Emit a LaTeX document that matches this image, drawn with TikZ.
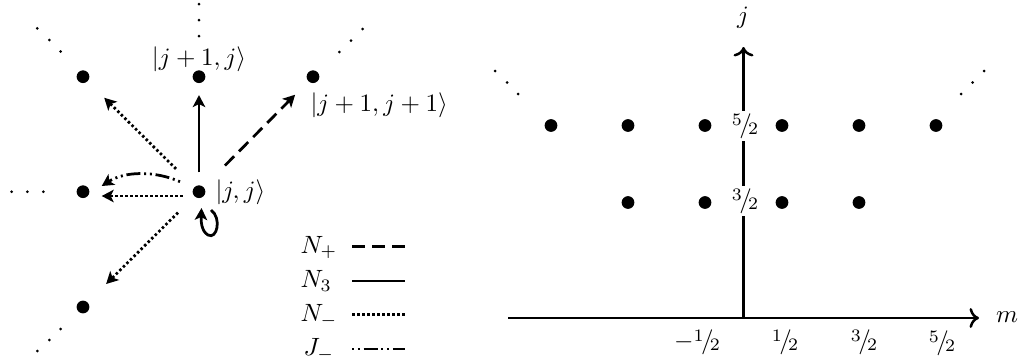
\documentclass[tikz,border=0pt]{standalone}
\usetikzlibrary{arrows.meta}
\newcommand{\hfr}[2]{\mbox{\raisebox{.6ex}{\scriptsize #1}\kern-.1em$/$\kern-.15em\lower.25ex\hbox{\scriptsize #2}}}
\begin{document}
\begin{tikzpicture}[x=0.4pt,y=-0.4pt,
  dot/.style={circle,fill,inner sep=0pt,minimum size=5.1pt},
  edot/.style={circle,fill,inner sep=0pt,minimum size=1.2pt},
  arr/.style={line width=1.1pt,-{Stealth[length=4.8pt,width=5pt,inset=1.2pt]}},
  plusline/.style={dash pattern=on 5.2pt off 2.8pt},
  minusline/.style={dash pattern=on 1pt off 1pt},
  jline/.style={dash pattern=on 0.8pt off 1.5pt on 0.8pt off 1.5pt on 5.6pt off 1.5pt},
  leg/.style={line width=1.1pt},
  lab/.style={inner sep=0pt},
  axis/.style={line width=1pt,->}
]
\useasboundingbox (0,0) rectangle (1024,362);

% ---------------- left diagram ----------------
\node[dot] (A)  at (199,191.7) {};
\node[dot] (UL) at (83,76.7) {};
\node[dot] (U)  at (199,76.7) {};
\node[dot] (UR) at (313,76.7) {};
\node[dot] (L)  at (83,191.7) {};
\node[dot] (DL) at (83,307) {};

\foreach \x/\y [count=\i] in {199/4,199/20,199/36,
  37.3/28.3,49.3/40,60.7/51.5,
  362.7/29,351/40.7,339.3/52,
  11.7/191.7,27.3/191.7,43.3/191.7,
  60.7/329,49.3/340,37.3/351}
  \node[edot] (e\i) at (\x,\y) {};

\node[lab] (lU) at (199,59) {$|j+1,j\rangle$};
\node[lab,anchor=west] (lUR) at (310,105) {$|j+1,j+1\rangle$};
\node[lab,anchor=west] (lA) at (215,192) {$|j,j\rangle$};

\draw[arr,shorten <=5pt,shorten >=4.6pt] (A) -- (U);
\draw[arr,plusline,shorten <=12pt,shorten >=7.4pt] (A) -- (UR);
\draw[arr,minusline,shorten <=10.2pt,shorten >=9.2pt] (A) -- (UL);
\draw[arr,minusline,shorten <=9.1pt,shorten >=10.3pt] (A) -- (DL);
\draw[arr,minusline] ([shift={(-16.3,4.3)}]A.center) -- ([shift={(18.7,4.3)}]L.center);
\draw[arr,jline] ([shift={(-19,-10)}]A.center) .. controls +(-25,-11) and +(23.3,-15) .. ([shift={(18.7,-5.7)}]L.center);
\draw[arr] ([shift={(12,18.3)}]A.center) .. controls +(11,8) and +(9,5) .. ([shift={(9,43.3)}]A.center)
  .. controls +(-7,-4) and +(-0.5,12) .. ([shift={(2.5,16.3)}]A.center);

% legend
\node[lab,anchor=base west] (nP) at (300,253) {$N_+$};
\node[lab,anchor=base west] (n3) at (300,287.5) {$N_3$};
\node[lab,anchor=base west] (nM) at (300,321.5) {$N_-$};
\node[lab,anchor=base west] (jM) at (303,355.5) {$J_-$};
\coordinate (p1) at (352,246.5); \coordinate (q1) at (405,246.5);
\coordinate (p2) at (352,281);   \coordinate (q2) at (405,281);
\coordinate (p3) at (352,314.5); \coordinate (q3) at (405,314.5);
\coordinate (p4) at (352,349);   \coordinate (q4) at (405,349);
\draw[leg,plusline] (p1) -- (q1);
\draw[leg] (p2) -- (q2);
\draw[leg,minusline] (p3) -- (q3);
\draw[leg,jline] (p4) -- (q4);

% ---------------- right diagram ----------------
\coordinate (xs) at (508,318);
\coordinate (xe) at (979,318);
\coordinate (O) at (743.5,318);
\coordinate (ye) at (743.5,47);
\draw[axis] (xs) -- (xe);
\draw[axis] (O) -- (ye);
\node (mlab) at (1007,317) {$m$};
\node (jlab) at (743,18) {$j$};

\foreach \m [count=\i] in {-2.5,-1.5,-0.5,0.5,1.5,2.5}
  \node[dot] (a\i) at ({743.5+77*\m},125.5) {};
\foreach \m [count=\i] in {-1.5,-0.5,0.5,1.5}
  \node[dot] (b\i) at ({743.5+77*\m},202.5) {};

\foreach \x/\y [count=\i] in {495/71,507/82.5,518/94,961/94,972.5/82.5,984/71}
  \node[edot] (f\i) at (\x,\y) {};

\node[fill=white,inner sep=1pt] (j52) at (745,126) {\hfr52};
\node[fill=white,inner sep=1pt] (j32) at (745,201) {\hfr32};

\node[lab] (tm12) at (697,342) {$-$\hfr12};
\node[lab] (t12) at (785,342) {\hfr12};
\node[lab] (t32) at (864,342) {\hfr32};
\node[lab] (t52) at (942,343) {\hfr52};
\end{tikzpicture}
\end{document}
